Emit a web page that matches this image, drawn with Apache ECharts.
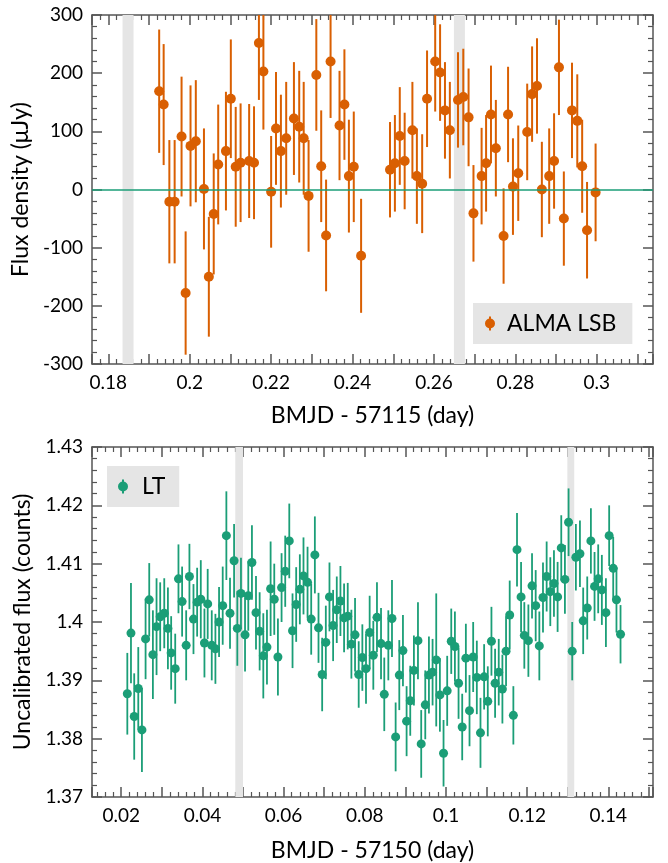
<!DOCTYPE html>
<html>
<head>
<meta charset="utf-8">
<script src="https://cdn.jsdelivr.net/npm/echarts@6/dist/echarts.min.js"></script>
<style>
html,body{margin:0;padding:0;background:#fff;}
#chart{width:668px;height:863px;}
</style>
</head>
<body>
<div id="chart"></div>
<script>
// ---------- Top panel: ALMA LSB ----------
const almaTime = [0.1925,0.1936,0.1950,0.1963,0.1980,0.1990,0.2002,0.2015,0.2035,0.2047,
0.2059,0.2070,0.2089,0.2101,0.2113,0.2125,0.2146,0.2158,0.2170,0.2181,
0.2200,0.2212,0.2224,0.2237,0.2256,0.2269,0.2280,0.2292,0.2311,0.2323,
0.2335,0.2346,0.2368,0.2380,0.2391,0.2403,0.2421,0.2492,0.2504,0.2516,
0.2528,0.2547,0.2558,0.2571,0.2583,0.2603,0.2615,0.2627,0.2639,0.2659,
0.2672,0.2685,0.2697,0.2717,0.2728,0.2740,0.2752,0.2771,0.2782,0.2794,
0.2807,0.2829,0.2841,0.2853,0.2865,0.2883,0.2895,0.2907,0.2919,0.2939,
0.2952,0.2964,0.2976,0.2997];
const almaFlux = [169,146,-21,-21,91,-178,75,83,1,-150,
-42,43,66,156,39,46,49,46,252,203,
-4,105,66,88,122,108,88,-11,197,40,
-79,220,110,146,23,39,-114,34,45,92,
49,102,23,10,156,220,201,136,102,154,
159,124,-41,23,45,129,71,-80,129,5,
28,99,164,178,0,23,49,210,-50,136,
118,40,-70,-5];
const almaErr = [106,104,106,106,103,106,104,105,104,103,
104,103,102,102,103,102,98,97,98,100,
96,97,97,97,97,96,97,96,96,96,
96,97,94,95,97,95,98,82,83,84,
83,83,82,85,83,86,83,83,83,82,
83,84,83,83,83,84,83,82,82,83,
82,83,82,82,82,82,82,82,81,82,
80,80,83,84];
const almaBands = [[0.1835,0.1862],[0.2649,0.2676]];
const almaXRange = [0.176, 0.3138];
const almaYRange = [-300, 300];

// ---------- Bottom panel: LT ----------
const ltTime = [0.0215,0.0224,0.0232,0.0242,0.0251,0.0260,0.0269,0.0278,0.0287,0.0296,
0.0306,0.0315,0.0323,0.0333,0.0341,0.0350,0.0360,0.0368,0.0378,0.0387,
0.0396,0.0405,0.0413,0.0423,0.0432,0.0441,0.0450,0.0459,0.0468,0.0478,
0.0486,0.0495,0.0505,0.0513,0.0522,0.0532,0.0541,0.0550,0.0559,0.0568,
0.0577,0.0586,0.0595,0.0604,0.0614,0.0622,0.0631,0.0640,0.0649,0.0659,
0.0668,0.0677,0.0686,0.0695,0.0704,0.0713,0.0722,0.0731,0.0740,0.0749,
0.0758,0.0767,0.0776,0.0785,0.0794,0.0803,0.0812,0.0821,0.0830,0.0840,
0.0848,0.0858,0.0867,0.0876,0.0885,0.0894,0.0903,0.0912,0.0921,0.0931,
0.0939,0.0949,0.0958,0.0967,0.0976,0.0985,0.0994,0.1003,0.1013,0.1022,
0.1031,0.1040,0.1049,0.1058,0.1067,0.1076,0.1085,0.1094,0.1103,0.1112,
0.1121,0.1130,0.1139,0.1148,0.1157,0.1166,0.1175,0.1185,0.1193,0.1203,
0.1212,0.1221,0.1230,0.1239,0.1248,0.1257,0.1266,0.1275,0.1284,0.1293,
0.1302,0.1311,0.1320,0.1330,0.1338,0.1348,0.1357,0.1366,0.1375,0.1384,
0.1394,0.1402,0.1412,0.1420,0.1430];
const ltFlux = [1.3877,1.3981,1.3838,1.3886,1.3815,1.3971,1.4038,1.3944,1.3992,1.4009,
1.4015,1.3989,1.3947,1.3920,1.4074,1.4035,1.3960,1.4078,1.4005,1.4034,
1.4039,1.3964,1.4031,1.3960,1.3954,1.4000,1.4028,1.4148,1.4015,1.4105,
1.3989,1.4049,1.3978,1.4045,1.4102,1.4016,1.3984,1.3942,1.3957,1.4057,
1.4039,1.3940,1.4059,1.4087,1.4139,1.3985,1.4030,1.4056,1.4079,1.4068,
1.4005,1.4115,1.3990,1.3910,1.3965,1.4043,1.3994,1.4021,1.4036,1.4007,
1.4010,1.3962,1.3978,1.3910,1.3939,1.3920,1.3982,1.3943,1.4008,1.3963,
1.3876,1.3960,1.4006,1.3803,1.3909,1.3951,1.3830,1.3865,1.3917,1.3968,
1.3791,1.3858,1.3909,1.3914,1.3935,1.3875,1.3775,1.3882,1.3967,1.3958,
1.3895,1.3820,1.3938,1.3848,1.3940,1.3905,1.3810,1.3906,1.3864,1.3967,
1.3895,1.3914,1.3885,1.3950,1.4012,1.3840,1.4124,1.4043,1.3977,1.3968,
1.4062,1.4028,1.3959,1.4042,1.4078,1.4052,1.4066,1.4043,1.4127,1.4073,
1.4171,1.3950,1.4111,1.4117,1.4002,1.4024,1.4139,1.4061,1.4074,1.4055,
1.4016,1.4148,1.4092,1.4038,1.3979];
const ltErr = [0.0070,0.0086,0.0074,0.0071,0.0072,0.0069,0.0063,0.0076,0.0083,0.0059,
0.0060,0.0070,0.0063,0.0060,0.0059,0.0060,0.0060,0.0056,0.0060,0.0059,
0.0067,0.0059,0.0060,0.0060,0.0060,0.0060,0.0067,0.0076,0.0061,0.0063,
0.0064,0.0061,0.0063,0.0060,0.0064,0.0063,0.0067,0.0073,0.0064,0.0081,
0.0061,0.0066,0.0059,0.0061,0.0064,0.0064,0.0064,0.0060,0.0066,0.0061,
0.0061,0.0066,0.0060,0.0063,0.0063,0.0059,0.0061,0.0057,0.0060,0.0059,
0.0057,0.0059,0.0063,0.0057,0.0057,0.0060,0.0063,0.0059,0.0060,0.0061,
0.0063,0.0060,0.0066,0.0059,0.0060,0.0061,0.0060,0.0060,0.0060,0.0066,
0.0058,0.0059,0.0066,0.0057,0.0114,0.0063,0.0057,0.0060,0.0056,0.0060,
0.0061,0.0057,0.0059,0.0061,0.0060,0.0063,0.0060,0.0056,0.0060,0.0059,
0.0059,0.0057,0.0059,0.0060,0.0059,0.0050,0.0063,0.0060,0.0057,0.0062,
0.0056,0.0061,0.0059,0.0060,0.0060,0.0059,0.0057,0.0060,0.0056,0.0059,
0.0058,0.0050,0.0057,0.0057,0.0057,0.0054,0.0056,0.0059,0.0059,0.0060,
0.0059,0.0052,0.0054,0.0056,0.0050];
const ltBands = [[0.0481,0.0500],[0.1299,0.1316]];
const ltXRange = [0.0128, 0.151];
const ltYRange = [1.37, 1.43];

const ORANGE = '#d95f02';
const GREEN = '#1b9e77';
const BAND = '#e5e5e5';
const AXIS = '#555555';
const FONT = 'Lato';

const chart = echarts.init(document.getElementById('chart'), null, {renderer: 'canvas'});

function xLabel(v) {
  const k = Math.round(v / 0.01);
  if (Math.abs(v - k * 0.01) > 1e-7 || k % 2 !== 0) return '';
  return String(+v.toFixed(2));
}

function axisCommon() {
  return {
    axisLine: {show: true, onZero: false, lineStyle: {color: AXIS, width: 1.5}},
    axisTick: {show: true, inside: true, length: 10, lineStyle: {color: AXIS, width: 1.5}},
    minorTick: {show: true, splitNumber: 5, length: 5, lineStyle: {color: AXIS, width: 1.2}},
    splitLine: {show: false},
    minorSplitLine: {show: false}
  };
}

function makeX(grid, range, pos, name, gap) {
  const a = Object.assign(axisCommon(), {
    type: 'value', gridIndex: grid, position: pos,
    min: range[0], max: range[1],
    minInterval: 0.01, maxInterval: 0.01, splitNumber: 14,
    axisLabel: pos === 'bottom'
      ? {show: true, formatter: xLabel, margin: 9, color: '#000', fontFamily: FONT, fontSize: 19}
      : {show: false}
  });
  if (name) {
    a.name = name; a.nameLocation = 'middle'; a.nameGap = gap;
    a.nameTextStyle = {color: '#000', fontFamily: FONT, fontSize: 23};
  }
  return a;
}

function makeY(grid, range, interval, pos, name, gap) {
  const a = Object.assign(axisCommon(), {
    type: 'value', gridIndex: grid, position: pos,
    min: range[0], max: range[1], interval: interval,
    axisLabel: pos === 'left'
      ? {show: true, margin: 9, color: '#000', fontFamily: FONT, fontSize: 19}
      : {show: false}
  });
  if (name) {
    a.name = name; a.nameLocation = 'middle'; a.nameGap = gap;
    a.nameTextStyle = {color: '#000', fontFamily: FONT, fontSize: 23};
  }
  return a;
}

function bandSeries(xi, yi, bands) {
  return {
    type: 'custom', xAxisIndex: xi, yAxisIndex: yi, z: 1, silent: true,
    data: bands,
    renderItem: function (params, api) {
      const p0 = api.coord([api.value(0), 0]);
      const p1 = api.coord([api.value(1), 0]);
      const cs = params.coordSys;
      return {type: 'rect', shape: {x: p0[0], y: cs.y, width: p1[0] - p0[0], height: cs.height},
              style: {fill: BAND}};
    }
  };
}

function errSeries(name, xi, yi, xs, ys, es, color, r, lw) {
  return {
    name: name, type: 'custom', xAxisIndex: xi, yAxisIndex: yi, z: 3, clip: true,
    itemStyle: {color: color},
    data: xs.map((x, i) => [x, ys[i], es[i]]),
    renderItem: function (params, api) {
      const x = api.value(0), y = api.value(1), e = api.value(2);
      const p = api.coord([x, y]);
      const lo = api.coord([x, y - e]);
      const hi = api.coord([x, y + e]);
      return {type: 'group', children: [
        {type: 'line', shape: {x1: p[0], y1: lo[1], x2: p[0], y2: hi[1]}, style: {stroke: color, lineWidth: lw}},
        {type: 'circle', shape: {cx: p[0], cy: p[1], r: r}, style: {fill: color}}
      ]};
    }
  };
}

const ICON = 'path://M6,0 h2 v14 h-2 Z M7,2 A5,5 0 1,1 6.999,2 Z';

const option = {
  animation: false,
  textStyle: {fontFamily: FONT},
  grid: [
    {left: 92, top: 15, width: 561, height: 349},
    {left: 92, top: 447, width: 561, height: 350}
  ],
  xAxis: [
    makeX(0, almaXRange, 'bottom', 'BMJD - 57115 (day)', 40),
    makeX(0, almaXRange, 'top', null),
    makeX(1, ltXRange, 'bottom', 'BMJD - 57150 (day)', 42),
    makeX(1, ltXRange, 'top', null)
  ],
  yAxis: [
    makeY(0, almaYRange, 100, 'left', 'Flux density (μJy)', 52),
    makeY(0, almaYRange, 100, 'right', null),
    makeY(1, ltYRange, 0.01, 'left', 'Uncalibrated flux (counts)', 52),
    makeY(1, ltYRange, 0.01, 'right', null)
  ],
  legend: [
    {data: ['ALMA LSB'], left: 473, top: 303, orient: 'vertical', selectedMode: false,
     backgroundColor: BAND, borderRadius: 0, padding: [9, 16, 9, 12],
     icon: ICON, itemWidth: 10, itemHeight: 14,
     textStyle: {color: '#000', fontFamily: FONT, fontSize: 23, padding: [0, 0, 0, 7]}},
    {data: ['LT'], left: 107, top: 466, orient: 'vertical', selectedMode: false,
     backgroundColor: BAND, borderRadius: 0, padding: [9, 14, 9, 11],
     icon: ICON, itemWidth: 10, itemHeight: 14,
     textStyle: {color: '#000', fontFamily: FONT, fontSize: 23, padding: [0, 0, 0, 9]}}
  ],
  series: [
    bandSeries(0, 0, almaBands),
    {type: 'line', xAxisIndex: 0, yAxisIndex: 0, data: [], z: 2, silent: true,
     markLine: {silent: true, symbol: 'none', label: {show: false},
       lineStyle: {color: GREEN, width: 1.5, type: 'solid'},
       data: [{yAxis: 0}]}},
    errSeries('ALMA LSB', 0, 0, almaTime, almaFlux, almaErr, ORANGE, 5, 2),
    bandSeries(2, 2, ltBands),
    errSeries('LT', 2, 2, ltTime, ltFlux, ltErr, GREEN, 4.5, 1.8)
  ]
};
chart.setOption(option);
</script>
</body>
</html>
